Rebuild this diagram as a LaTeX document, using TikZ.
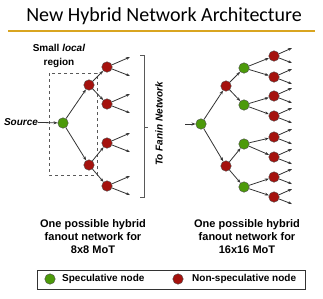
\documentclass[tikz,border=0pt]{standalone}
\usepackage{fontspec}
\setmainfont{Liberation Sans}
\newfontfamily\titlefont{Carlito}
\usetikzlibrary{arrows.meta, positioning}
\definecolor{specgreen}{HTML}{4C9A0A}
\definecolor{nonspecred}{HTML}{A5120E}
\definecolor{rulegold}{HTML}{D9A520}

\begin{document}
\begin{tikzpicture}[x=1pt, y=-1pt,
    spec/.style    = {circle, draw=gray!60!black, fill=specgreen,
                      minimum size=10.5pt, inner sep=0pt},
    nonspec/.style = {circle, draw=gray!60!black, fill=nonspecred,
                      minimum size=10.5pt, inner sep=0pt},
    arrow/.style   = {-{Stealth[length=4pt,width=3pt]}, thick, color=black!80},
    lbl/.style     = {font=\bfseries\fontsize{10}{12}\selectfont, inner sep=0pt},
    caption/.style = {font=\bfseries\fontsize{11}{13}\selectfont, align=center, inner sep=0pt}
  ]
  \useasboundingbox (0,0) rectangle (323,298);

  % Title
  \node[font=\titlefont\fontsize{20}{22}\selectfont] (title) at (164,16) {New Hybrid Network Architecture};
  \draw[rulegold, line width=1.4pt] (8,31) -- (315,31);

  % Left tree — 8x8
  \node[spec]    at (63,123)  (src) {};
  \node[nonspec] at (89,85)   (a1)  {};
  \node[nonspec] at (89,165)  (a2)  {};
  \node[nonspec] at (107,67)  (b1)  {};
  \node[nonspec] at (107,104) (b2)  {};
  \node[nonspec] at (107,143) (b3)  {};
  \node[nonspec] at (107,186) (b4)  {};

  \node[lbl, font=\bfseries\itshape\fontsize{10}{12}\selectfont] at (21,122) (source) {Source};
  \node[lbl, align=center, font=\bfseries\fontsize{10}{14}\selectfont] at (59,56) (local)
       {Small \textit{local}\\region};
  \draw[dashed, thick, gray!70!black] (49,73) rectangle (97,175);

  \draw[arrow] (source) -- (src);
  \draw[arrow] (src) -- (a1);
  \draw[arrow] (src) -- (a2);
  \draw[arrow] (a1) -- (b1);
  \draw[arrow] (a1) -- (b2);
  \draw[arrow] (a2) -- (b3);
  \draw[arrow] (a2) -- (b4);

  % Left leaves
  \foreach \n/\y in {b1/67, b2/104, b3/143, b4/186} {
    \coordinate (\n up) at (130,\y-10);
    \coordinate (\n dn) at (130,\y+9);
    \draw[arrow] (\n) -- (\n up);
    \draw[arrow] (\n) -- (\n dn);
  }

  % Bracket to fanin network
  \coordinate (brtop) at (140,55);
  \coordinate (brbot) at (140,197);
  \draw[thick, gray!70!black] (brtop) -| (144,197) -- (brbot);
  \draw[thick, gray!70!black] (144,127) -- (148,127);
  \node[lbl, rotate=90, font=\bfseries\itshape\fontsize{10}{12}\selectfont] at (159,124) (fanin) {To Fanin Network};

  % Right tree — 16x16
  \coordinate (rin) at (185,124);
  \node[spec]    at (201,124) (r0) {};
  \node[nonspec] at (226,86)  (r1) {};
  \node[nonspec] at (226,166) (r2) {};
  \node[spec]    at (244,68)  (g1) {};
  \node[spec]    at (244,105) (g2) {};
  \node[spec]    at (244,144) (g3) {};
  \node[spec]    at (244,187) (g4) {};
  \foreach \i/\y in {1/56, 2/77, 3/96, 4/116, 5/137, 6/157, 7/177, 8/197}
    \node[nonspec] at (274,\y) (l\i) {};

  \draw[arrow] (rin) -- (r0);
  \draw[arrow] (r0) -- (r1);
  \draw[arrow] (r0) -- (r2);
  \draw[arrow] (r1) -- (g1);
  \draw[arrow] (r1) -- (g2);
  \draw[arrow] (r2) -- (g3);
  \draw[arrow] (r2) -- (g4);
  \draw[arrow] (g1) -- (l1);
  \draw[arrow] (g1) -- (l2);
  \draw[arrow] (g2) -- (l3);
  \draw[arrow] (g2) -- (l4);
  \draw[arrow] (g3) -- (l5);
  \draw[arrow] (g3) -- (l6);
  \draw[arrow] (g4) -- (l7);
  \draw[arrow] (g4) -- (l8);

  % Right leaves
  \foreach \i/\y in {1/56, 2/77, 3/96, 4/116, 5/137, 6/157, 7/177, 8/197} {
    \coordinate (l\i up) at (292,\y-8);
    \coordinate (l\i dn) at (292,\y+7);
    \draw[arrow] (l\i) -- (l\i up);
    \draw[arrow] (l\i) -- (l\i dn);
  }

  % Captions
  \node[caption] at (93,237)  (capleft)  {One possible hybrid\\fanout network for\\8x8 MoT};
  \node[caption] at (247,237) (capright) {One possible hybrid\\fanout network for\\16x16 MoT};

  % Legend
  \draw[thick, black!80] (37,270) rectangle (305,289);
  \node[spec]    at (50,279)  (legspec)    {};
  \node[nonspec] at (178,279) (legnonspec) {};
  \node[lbl, anchor=west] at (62,279)  (txtspec)    {Speculative node};
  \node[lbl, anchor=west] at (192,279) (txtnonspec) {Non-speculative node};
\end{tikzpicture}
\end{document}
